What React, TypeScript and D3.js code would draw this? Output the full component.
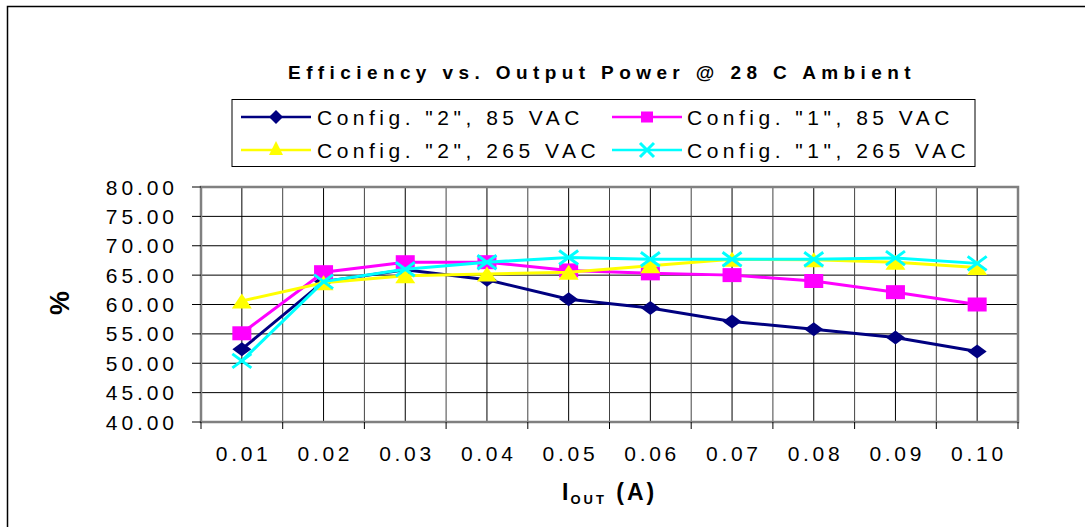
import React from "react";
import * as d3 from "d3";

const categories = ["0.01", "0.02", "0.03", "0.04", "0.05", "0.06", "0.07", "0.08", "0.09", "0.10"];
const yTicks = [40, 45, 50, 55, 60, 65, 70, 75, 80];
const config2_85 = [52.4, 63.9, 65.9, 64.2, 60.9, 59.4, 57.1, 55.8, 54.4, 52.0];
const config1_85 = [55.1, 65.5, 67.2, 67.2, 65.8, 65.3, 65.0, 64.0, 62.1, 60.0];
const config2_265 = [60.6, 63.7, 64.9, 65.2, 65.5, 66.6, 67.7, 67.6, 67.2, 66.3];
const config1_265 = [50.4, 63.9, 66.0, 67.2, 68.0, 67.7, 67.7, 67.7, 67.9, 67.0];
const seriesNames = ['Config. "2", 85 VAC', 'Config. "1", 85 VAC', 'Config. "2", 265 VAC', 'Config. "1", 265 VAC'];

type Shape = "diamond" | "square" | "triangle" | "x";
const series: { name: string; values: number[]; color: string; shape: Shape }[] = [
  { name: seriesNames[0], values: config2_85, color: "#000080", shape: "diamond" },
  { name: seriesNames[1], values: config1_85, color: "#FF00FF", shape: "square" },
  { name: seriesNames[2], values: config2_265, color: "#FFFF00", shape: "triangle" },
  { name: seriesNames[3], values: config1_265, color: "#00FFFF", shape: "x" },
];

const FONT = "'Liberation Sans', Arial, sans-serif";

function Marker({ shape, color, x, y, w, h, up = 1 }: { shape: Shape; color: string; x: number; y: number; w: number; h: number; up?: number }) {
  const hw = w / 2, hh = h / 2;
  if (shape === "diamond") {
    return <path d={`M${x - hw},${y} L${x},${y - hh} L${x + hw},${y} L${x},${y + hh} Z`} fill={color} />;
  }
  if (shape === "square") {
    return <rect x={x - hw} y={y - hh} width={w} height={h} fill={color} />;
  }
  if (shape === "triangle") {
    return <path d={`M${x - hw},${y + hh * (2 - up)} L${x},${y - hh * up} L${x + hw},${y + hh * (2 - up)} Z`} fill={color} />;
  }
  return (
    <path d={`M${x - hw},${y - hh} L${x + hw},${y + hh} M${x - hw},${y + hh} L${x + hw},${y - hh}`} stroke={color} strokeWidth={3} fill="none" />
  );
}

export default function App() {
  const left = 201, right = 1018, top = 187, bottom = 422;
  const x = d3.scaleBand<string>().domain(categories).range([left, right]);
  const y = d3.scaleLinear().domain([40, 80]).range([bottom, top]);
  const cx = (c: string) => (x(c) as number) + x.bandwidth() / 2;
  const line = d3.line<number>().x((_, i) => cx(categories[i])).y((v) => y(v));
  const boundaries = categories.map((c) => x(c) as number).concat([right]);

  const legendRows = [
    { s: series[0], lx: 241, tx: 317, y: 117 },
    { s: series[1], lx: 612, tx: 687, y: 117 },
    { s: series[2], lx: 241, tx: 317, y: 150 },
    { s: series[3], lx: 612, tx: 687, y: 150 },
  ];

  return (
    <svg width={1085} height={527} style={{ position: "absolute", left: 0, top: 0, background: "#fff" }} fontFamily={FONT}>
      <rect x={0} y={0} width={1085} height={527} fill="#fff" />
      <rect x={7.5} y={6.5} width={1100} height={600} fill="none" stroke="#000" strokeWidth={1.5} />

      {/* title */}
      <text x={602} y={79} textAnchor="middle" fontSize={19} fontWeight="bold" letterSpacing={5.4}>
        Efficiency vs. Output Power @ 28 C Ambient
      </text>

      {/* legend */}
      <rect x={232} y={99.5} width={743} height={67} fill="#fff" stroke="#000" strokeWidth={1} />
      {legendRows.map((r, i) => (
        <g key={i}>
          <line x1={r.lx} x2={r.lx + 70} y1={r.y} y2={r.y} stroke={r.s.color} strokeWidth={2.5} />
          <Marker shape={r.s.shape} color={r.s.color} x={r.lx + 35} y={r.y} w={r.s.shape === "square" ? 12 : 14} h={r.s.shape === "square" ? 11 : 14} up={1.3} />
          <text x={r.tx} y={r.y + 7.5} fontSize={21} letterSpacing={4.5}>{r.s.name}</text>
        </g>
      ))}

      {/* gridlines */}
      {yTicks.slice(1, -1).map((t) => (
        <line key={"h" + t} x1={left} x2={right} y1={y(t)} y2={y(t)} stroke="#000" strokeWidth={1} />
      ))}
      {categories.map((c) => (
        <line key={"vc" + c} x1={cx(c)} x2={cx(c)} y1={top} y2={bottom} stroke="#000" strokeWidth={1} />
      ))}
      {boundaries.slice(1, -1).map((b, i) => (
        <line key={"vb" + i} x1={b} x2={b} y1={top} y2={bottom} stroke="#444" strokeWidth={1} />
      ))}
      <rect x={left} y={top} width={right - left} height={bottom - top} fill="none" stroke="#808080" strokeWidth={2.5} />

      {/* y axis ticks */}
      {yTicks.map((t) => (
        <g key={"yt" + t}>
          <line x1={192} x2={left} y1={y(t)} y2={y(t)} stroke="#000" strokeWidth={1} />
          <text x={174 + 3.9} y={y(t) + 7.5} textAnchor="end" fontSize={21} letterSpacing={3.9}>
            {t.toFixed(2)}
          </text>
        </g>
      ))}
      {/* x axis ticks */}
      {boundaries.map((b, i) => (
        <line key={"xt" + i} x1={b} x2={b} y1={bottom} y2={bottom + 7} stroke="#000" strokeWidth={1} />
      ))}
      {categories.map((c) => (
        <text key={"xl" + c} x={cx(c) + 1.8} y={460.5} textAnchor="middle" fontSize={21} letterSpacing={3.7}>
          {c}
        </text>
      ))}

      {/* axis titles */}
      <text x={562} y={499.5} fontSize={23} fontWeight="bold" letterSpacing={2}>
        I<tspan fontSize={13} dy={4} letterSpacing={3}>OUT</tspan>
        <tspan fontSize={23} dy={-4} letterSpacing={3}> (A)</tspan>
      </text>
      <text transform="translate(69,303) rotate(-90)" textAnchor="middle" fontSize={27} fontWeight="bold">%</text>

      {/* series */}
      {series.map((s) => (
        <g key={s.name}>
          <path d={line(s.values) || ""} fill="none" stroke={s.color} strokeWidth={3} />
          {s.values.map((v, i) => (
            <Marker key={i} shape={s.shape} color={s.color} x={cx(categories[i])} y={y(v)} w={s.shape === "triangle" ? 20 : 19} h={s.shape === "triangle" ? 15 : 14} />
          ))}
        </g>
      ))}
    </svg>
  );
}
